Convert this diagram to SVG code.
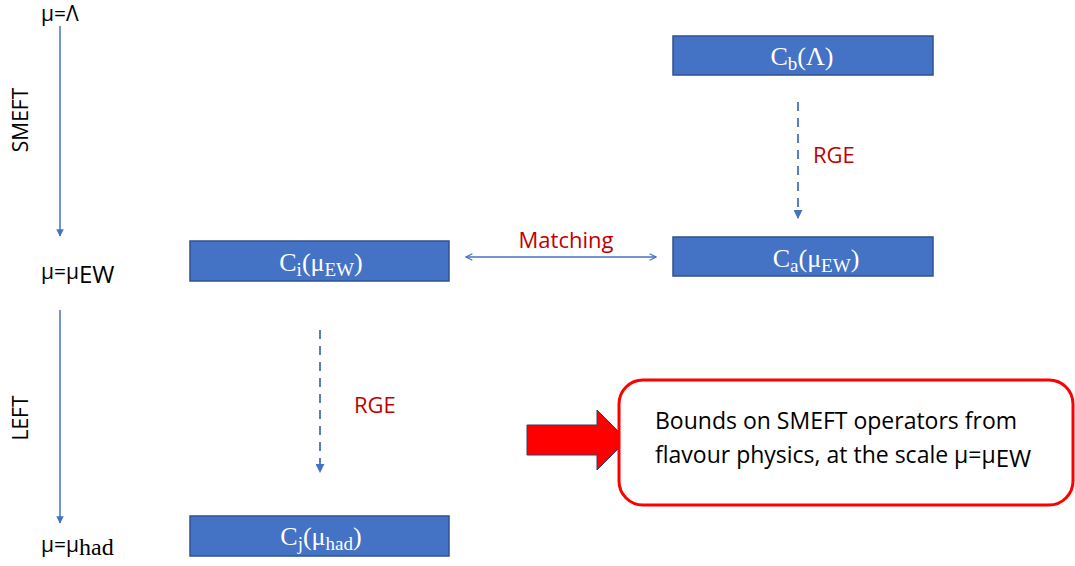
<svg xmlns="http://www.w3.org/2000/svg" width="1075" height="566" viewBox="0 0 1075 566">
  <style>
    .box { fill: #4472C4; stroke: #2F528F; stroke-width: 1.5; }
    .blabel { font-family: "Liberation Serif", "DejaVu Serif", serif; font-size: 26px; fill: #FFFFFF; text-anchor: middle; }
    .sub { font-size: 19px; }
    .axis { stroke: #4472C4; stroke-width: 1.5; fill: none; }
    .dash { stroke: #4472C4; stroke-width: 1.8; stroke-dasharray: 9 7; fill: none; }
    .red { font-family: "Open Sans", "Liberation Sans", sans-serif; font-size: 22px; fill: #C00000; }
    .lbl { font-family: "Open Sans", "Liberation Sans", sans-serif; font-size: 21px; fill: #000000; }
    .note { font-family: "Open Sans", "Liberation Sans", sans-serif; font-size: 23px; fill: #000000; }
  </style>
  <defs>
    <marker id="tri" viewBox="0 0 10 10" refX="9" refY="5" markerWidth="5" markerHeight="5" orient="auto">
      <path d="M0,0 L10,5 L0,10 z" fill="#4472C4"/>
    </marker>
    <marker id="open" viewBox="0 0 10 10" refX="9" refY="5" markerWidth="8" markerHeight="8" orient="auto-start-reverse" markerUnits="userSpaceOnUse">
      <path d="M1,1 L9,5 L1,9" fill="none" stroke="#4472C4" stroke-width="1.5"/>
    </marker>
  </defs>

  <!-- scale axis and labels -->
  <g id="scale">
    <text class="lbl" x="41" y="21" font-size="20px">μ=Λ</text>
    <text class="lbl" x="41" y="279">μ=μ<tspan font-size="24px" dy="4">EW</tspan></text>
    <text class="lbl" x="41" y="552">μ=μ<tspan font-family="Liberation Serif, serif" font-size="24px" dy="3">had</tspan></text>
    <text class="lbl" transform="translate(28,120) rotate(-90)" text-anchor="middle" font-size="22px">SMEFT</text>
    <text class="lbl" transform="translate(28,418) rotate(-90)" text-anchor="middle" font-size="22px">LEFT</text>
  </g>

  <g id="connectors">
    <line class="axis" x1="60" y1="26" x2="60" y2="236" marker-end="url(#tri)"/>
    <line class="axis" x1="60" y1="310" x2="60" y2="523" marker-end="url(#tri)"/>
    <line class="axis" x1="466" y1="257" x2="656" y2="257" marker-start="url(#open)" marker-end="url(#open)"/>
    <line class="dash" x1="798" y1="102" x2="798" y2="218" marker-end="url(#tri)"/>
    <line class="dash" x1="320" y1="330" x2="320" y2="472" marker-end="url(#tri)"/>
    <text class="red" x="566" y="248" text-anchor="middle">Matching</text>
    <text class="red" x="813" y="163">RGE</text>
    <text class="red" x="354" y="413">RGE</text>
  </g>

  <g id="node-cb">
    <rect class="box" x="673" y="36" width="260" height="39"/>
    <text class="blabel" x="802" y="65">C<tspan class="sub" dy="5">b</tspan><tspan dy="-5">(Λ)</tspan></text>
  </g>
  <g id="node-ci">
    <rect class="box" x="190" y="241" width="259" height="40"/>
    <text class="blabel" x="321" y="271">C<tspan class="sub" dy="5">i</tspan><tspan dy="-5">(μ</tspan><tspan class="sub" dy="5">EW</tspan><tspan dy="-5">)</tspan></text>
  </g>
  <g id="node-ca">
    <rect class="box" x="673" y="237" width="260" height="39"/>
    <text class="blabel" x="816" y="267">C<tspan class="sub" dy="5">a</tspan><tspan dy="-5">(μ</tspan><tspan class="sub" dy="5">EW</tspan><tspan dy="-5">)</tspan></text>
  </g>
  <g id="node-cj">
    <rect class="box" x="190" y="516" width="259" height="40"/>
    <text class="blabel" x="321" y="545">C<tspan class="sub" dy="5">j</tspan><tspan dy="-5">(μ</tspan><tspan class="sub" dy="5">had</tspan><tspan dy="-5">)</tspan></text>
  </g>

  <g id="block-arrow">
    <path d="M527,425 L597,425 L597,410 L627,440 L597,470 L597,455 L527,455 Z" fill="#FF0000" stroke="#2F3F6F" stroke-width="1"/>
  </g>

  <g id="note">
    <rect x="619" y="380" width="454" height="125" rx="24" ry="24" fill="#FFFFFF" stroke="#FF0000" stroke-width="3"/>
    <text class="note" x="655" y="429">Bounds on SMEFT operators from</text>
    <text class="note" x="655" y="463">flavour physics, at the scale μ=μ<tspan font-size="24px" dy="4">EW</tspan></text>
  </g>
</svg>
